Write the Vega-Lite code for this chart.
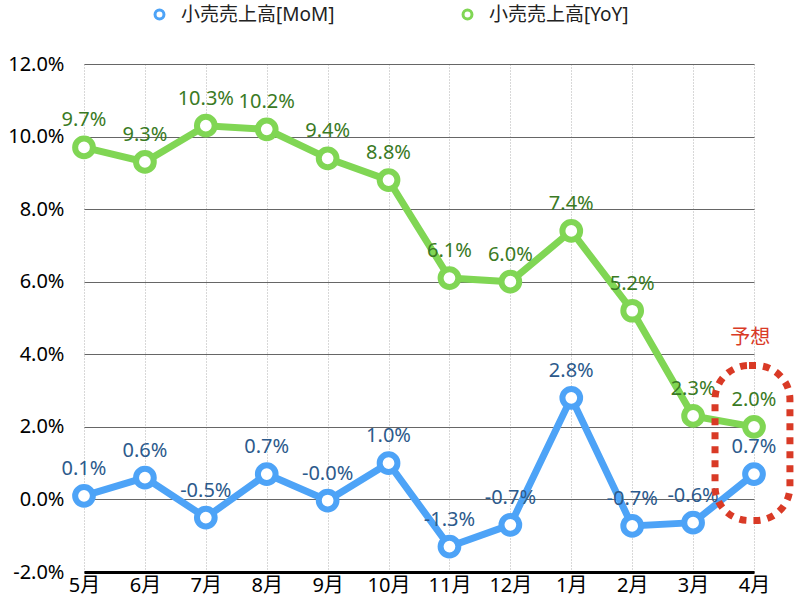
{
  "$schema": "https://vega.github.io/schema/vega-lite/v6.json",
  "width": 670,
  "height": 508,
  "autosize": {"type": "none"},
  "padding": {"left": 84, "top": 64, "right": 44, "bottom": 28},
  "background": "white",
  "config": {
    "font": "'Noto Sans', 'Noto Sans CJK JP', sans-serif",
    "view": {"stroke": null}
  },
  "datasets": {
    "sales": [
      {"month": "5月", "series": "小売売上高[MoM]", "value": 0.001, "label": "0.1%"},
      {"month": "6月", "series": "小売売上高[MoM]", "value": 0.006, "label": "0.6%"},
      {"month": "7月", "series": "小売売上高[MoM]", "value": -0.005, "label": "-0.5%"},
      {"month": "8月", "series": "小売売上高[MoM]", "value": 0.007, "label": "0.7%"},
      {"month": "9月", "series": "小売売上高[MoM]", "value": -0.0003, "label": "-0.0%"},
      {"month": "10月", "series": "小売売上高[MoM]", "value": 0.010, "label": "1.0%"},
      {"month": "11月", "series": "小売売上高[MoM]", "value": -0.013, "label": "-1.3%"},
      {"month": "12月", "series": "小売売上高[MoM]", "value": -0.007, "label": "-0.7%"},
      {"month": "1月", "series": "小売売上高[MoM]", "value": 0.028, "label": "2.8%"},
      {"month": "2月", "series": "小売売上高[MoM]", "value": -0.0073, "label": "-0.7%"},
      {"month": "3月", "series": "小売売上高[MoM]", "value": -0.0064, "label": "-0.6%"},
      {"month": "4月", "series": "小売売上高[MoM]", "value": 0.007, "label": "0.7%"},
      {"month": "5月", "series": "小売売上高[YoY]", "value": 0.097, "label": "9.7%"},
      {"month": "6月", "series": "小売売上高[YoY]", "value": 0.093, "label": "9.3%"},
      {"month": "7月", "series": "小売売上高[YoY]", "value": 0.103, "label": "10.3%"},
      {"month": "8月", "series": "小売売上高[YoY]", "value": 0.102, "label": "10.2%"},
      {"month": "9月", "series": "小売売上高[YoY]", "value": 0.094, "label": "9.4%"},
      {"month": "10月", "series": "小売売上高[YoY]", "value": 0.088, "label": "8.8%"},
      {"month": "11月", "series": "小売売上高[YoY]", "value": 0.061, "label": "6.1%"},
      {"month": "12月", "series": "小売売上高[YoY]", "value": 0.060, "label": "6.0%"},
      {"month": "1月", "series": "小売売上高[YoY]", "value": 0.074, "label": "7.4%"},
      {"month": "2月", "series": "小売売上高[YoY]", "value": 0.052, "label": "5.2%"},
      {"month": "3月", "series": "小売売上高[YoY]", "value": 0.023, "label": "2.3%"},
      {"month": "4月", "series": "小売売上高[YoY]", "value": 0.020, "label": "2.0%"}
    ],
    "note": [
      {"x0": 10.36, "x1": 11.59, "y0": -0.0058, "y1": 0.0369, "tx": 10.94, "ty": 0.0444, "text": "予想"}
    ]
  },
  "layer": [
    {
      "data": {"name": "sales"},
      "encoding": {
        "x": {
          "field": "month",
          "type": "ordinal",
          "sort": null,
          "scale": {"type": "point", "padding": 0},
          "axis": {
            "title": null,
            "labelAngle": 0,
            "labelFontSize": 20,
            "labelColor": "black",
            "labelPadding": 3,
            "ticks": false,
            "domainColor": "black",
            "domainWidth": 3,
            "grid": true,
            "gridColor": "#b0b0b0",
            "gridDash": [1, 2]
          }
        },
        "y": {
          "field": "value",
          "type": "quantitative",
          "scale": {"domain": [-0.02, 0.12], "nice": false},
          "axis": {
            "title": null,
            "values": [-0.02, -0.01, 0, 0.01, 0.02, 0.03, 0.04, 0.05, 0.06, 0.07, 0.08, 0.09, 0.1, 0.11, 0.12],
            "format": ".1%",
            "labelExpr": "abs(round(datum.value * 100)) % 2 == 0 ? replace(datum.label, '−', '-') : ''",
            "labelFontSize": 20,
            "labelColor": "black",
            "labelPadding": 20,
            "domain": false,
            "ticks": false,
            "gridColor": {"condition": {"test": "abs(round(datum.value * 100)) % 2 == 0", "value": "#666666"}, "value": "#b0b0b0"},
            "gridDash": {"condition": {"test": "abs(round(datum.value * 100)) % 2 == 0", "value": []}, "value": [1, 2]}
          }
        },
        "color": {
          "field": "series",
          "type": "nominal",
          "scale": {"domain": ["小売売上高[MoM]", "小売売上高[YoY]"], "range": ["#4da3f7", "#80d654"]},
          "legend": {
            "title": null,
            "orient": "none",
            "direction": "horizontal",
            "legendX": 66,
            "legendY": -59,
            "labelFontSize": 19,
            "labelColor": "#222222",
            "labelOffset": 12,
            "columnPadding": 122,
            "symbolType": "circle",
            "symbolSize": 80,
            "symbolStrokeWidth": 3,
            "symbolFillColor": "white"
          }
        }
      },
      "layer": [
        {
          "mark": {"type": "line", "strokeWidth": 7}
        },
        {
          "mark": {"type": "point", "shape": "circle", "filled": false, "fill": "white", "fillOpacity": 1, "opacity": 1, "size": 314, "strokeWidth": 6}
        },
        {
          "mark": {"type": "text", "fontSize": 20, "baseline": "middle", "dy": -27},
          "encoding": {
            "text": {"field": "label"},
            "color": {"condition": {"test": "datum.series == '小売売上高[YoY]'", "value": "#3a7a24"}, "value": "#2c5a8c"}
          }
        }
      ]
    },
    {
      "data": {"name": "note"},
      "layer": [
        {
          "mark": {"type": "rect", "fill": null, "stroke": "#d93a26", "strokeWidth": 7, "strokeDash": [7, 7], "cornerRadius": 34},
          "encoding": {
            "x": {"field": "x0", "type": "quantitative", "scale": {"domain": [0, 11], "nice": false, "zero": false}, "axis": null},
            "x2": {"field": "x1"},
            "y": {"field": "y0", "type": "quantitative"},
            "y2": {"field": "y1"}
          }
        },
        {
          "mark": {"type": "text", "fontSize": 20, "color": "#d93a26", "baseline": "middle"},
          "encoding": {
            "x": {"field": "tx", "type": "quantitative"},
            "y": {"field": "ty", "type": "quantitative"},
            "text": {"field": "text"}
          }
        }
      ]
    }
  ],
  "resolve": {"scale": {"x": "independent"}}
}
